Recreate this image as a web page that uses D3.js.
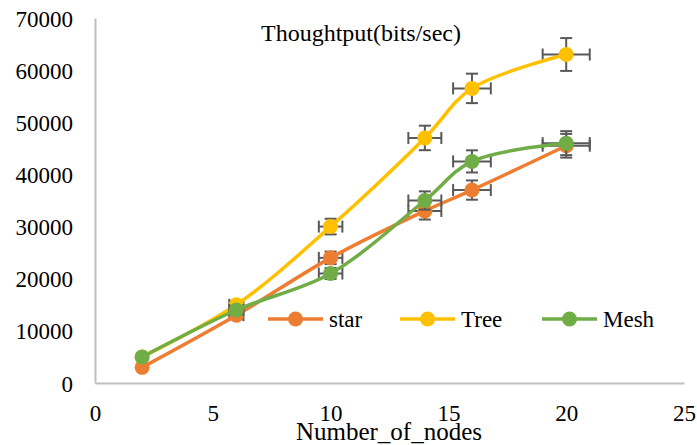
<!DOCTYPE html>
<html>
<head>
<meta charset="utf-8">
<script src="https://cdn.jsdelivr.net/npm/d3@7"></script>
<style>
html,body{margin:0;padding:0;background:#fff;}
svg{display:block;}
svg text{font-family:"Liberation Serif","Times New Roman",serif !important;}
</style>
</head>
<body>
<svg id="chart" width="697" height="445"></svg>
<script>
const nodes = [2, 6, 10, 14, 16, 20];
const seriesNames = ["star", "Tree", "Mesh"];
const star = [3000, 13000, 24000, 33000, 37000, 45500];
const tree = [5000, 15000, 30000, 47000, 56500, 63000];
const mesh = [5000, 14000, 21000, 35000, 42500, 46000];
const xErr = [0.1, 0.3, 0.5, 0.7, 0.8, 1.0];
const starErr = [150, 650, 1200, 1650, 1850, 2275];
const treeErr = [250, 750, 1500, 2350, 2825, 3150];
const meshErr = [250, 700, 1050, 1750, 2125, 2300];
const xTicks = [0, 5, 10, 15, 20, 25];
const yTicks = [0, 10000, 20000, 30000, 40000, 50000, 60000, 70000];
const colors = ["#ED7D31", "#FFC000", "#70AD47"];
const titleText = "Thoughtput(bits/sec)";
const xTitle = "Number_of_nodes";

const series = [
  {name: seriesNames[0], values: star, err: starErr, color: colors[0]},
  {name: seriesNames[1], values: tree, err: treeErr, color: colors[1]},
  {name: seriesNames[2], values: mesh, err: meshErr, color: colors[2]}
];

const FONT = "'Liberation Serif', 'Times New Roman', serif";
const svg = d3.select("#chart");
const x = d3.scaleLinear().domain([0, 25]).range([95, 684]);
const y = d3.scaleLinear().domain([0, 70000]).range([383, 18]);

// axes
const xAxis = svg.append("g").attr("transform", "translate(0,383)")
  .call(d3.axisBottom(x).tickValues(xTicks).tickSize(0).tickPadding(0).tickFormat(d3.format("d")));
xAxis.attr("font-family", FONT);
xAxis.select(".domain").attr("stroke", "#bfbfbf").attr("stroke-width", 2);
xAxis.selectAll("text").attr("font-size", 23).attr("fill", "#000")
  .attr("dy", null).attr("y", 38).style("font-family", FONT);

const yAxis = svg.append("g").attr("transform", "translate(95,0)")
  .call(d3.axisLeft(y).tickValues(yTicks).tickSize(0).tickPadding(0).tickFormat(d3.format("d")));
yAxis.attr("font-family", FONT);
yAxis.select(".domain").attr("stroke", "#bfbfbf").attr("stroke-width", 2);
yAxis.selectAll("text").attr("font-size", 23).attr("fill", "#000")
  .attr("x", -22).attr("dy", "0.35em").style("font-family", FONT);

// titles
svg.append("text").attr("x", 361).attr("y", 41).attr("text-anchor", "middle")
  .attr("font-size", 24).attr("fill", "#000").style("font-family", FONT).text(titleText);
svg.append("text").attr("x", 389).attr("y", 440).attr("text-anchor", "middle")
  .attr("font-size", 25).attr("fill", "#000").style("font-family", FONT).text(xTitle);

const line = d3.line().curve(d3.curveCatmullRom.alpha(0.5))
  .x((d, i) => x(nodes[i])).y(d => y(d));

const errColor = "#595959";
const cap = 6;
series.forEach(s => {
  const g = svg.append("g");
  const eb = g.append("g").attr("stroke", errColor).attr("stroke-width", 2).attr("fill", "none");
  s.values.forEach((v, i) => {
    const cx = x(nodes[i]), cy = y(v);
    const x0 = x(nodes[i] - xErr[i]), x1 = x(nodes[i] + xErr[i]);
    const y0 = y(v - s.err[i]), y1 = y(v + s.err[i]);
    eb.append("line").attr("x1", x0).attr("x2", x1).attr("y1", cy).attr("y2", cy);
    eb.append("line").attr("x1", x0).attr("x2", x0).attr("y1", cy - cap).attr("y2", cy + cap);
    eb.append("line").attr("x1", x1).attr("x2", x1).attr("y1", cy - cap).attr("y2", cy + cap);
    eb.append("line").attr("x1", cx).attr("x2", cx).attr("y1", y0).attr("y2", y1);
    eb.append("line").attr("x1", cx - cap).attr("x2", cx + cap).attr("y1", y0).attr("y2", y0);
    eb.append("line").attr("x1", cx - cap).attr("x2", cx + cap).attr("y1", y1).attr("y2", y1);
  });
  g.append("path").datum(s.values).attr("d", line).attr("fill", "none")
    .attr("stroke", s.color).attr("stroke-width", 3.5).attr("stroke-linecap", "round");
  g.selectAll("circle").data(s.values).enter().append("circle")
    .attr("cx", (d, i) => x(nodes[i])).attr("cy", d => y(d)).attr("r", 7.5)
    .attr("fill", s.color);
});

// legend
const legendX = [268, 400, 542];
const lg = svg.append("g");
series.forEach((s, i) => {
  const g = lg.append("g").attr("transform", `translate(${legendX[i]},319)`);
  g.append("line").attr("x1", 0).attr("x2", 55).attr("y1", 0).attr("y2", 0)
    .attr("stroke", s.color).attr("stroke-width", 3.5);
  g.append("circle").attr("cx", 27.5).attr("cy", 0).attr("r", 7.5).attr("fill", s.color);
  g.append("text").attr("x", 61).attr("y", 0).attr("dy", "0.35em")
    .attr("font-size", 23).attr("fill", "#000").style("font-family", FONT).text(s.name);
});
</script>
</body>
</html>
